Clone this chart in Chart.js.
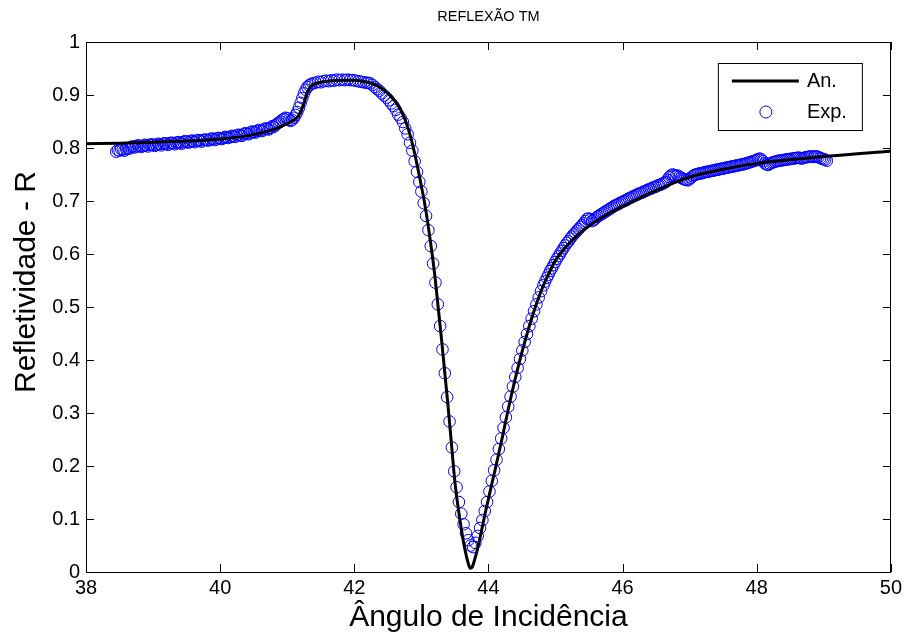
<!DOCTYPE html>
<html><head><meta charset="utf-8">
<script src="https://cdn.jsdelivr.net/npm/chart.js@4/dist/chart.umd.min.js"></script>
<style>html,body{margin:0;padding:0;background:#fff}</style>
</head><body>
<canvas id="c" width="906" height="637"></canvas>
<script>
const titleText = 'REFLEXÃO TM';
const xTitle = 'Ângulo de Incidência';
const yTitle = 'Refletividade - R';
const xTicks = [38, 40, 42, 44, 46, 48, 50];
const yTicks = [0, 0.1, 0.2, 0.3, 0.4, 0.5, 0.6, 0.7, 0.8, 0.9, 1];
const yTickLabels = ['0', '0.1', '0.2', '0.3', '0.4', '0.5', '0.6', '0.7', '0.8', '0.9', '1'];

// Analytical curve (An.)
const anX = [38, 38.5, 39, 39.5, 40, 40.3, 40.6, 40.8, 41.0, 41.1, 41.15, 41.2, 41.25, 41.3, 41.35, 41.4, 41.5, 41.6, 41.8, 42.0, 42.2, 42.3, 42.4, 42.5, 42.6, 42.7, 42.8, 42.9, 43.0, 43.05, 43.1, 43.15, 43.2, 43.25, 43.3, 43.35, 43.4, 43.45, 43.5, 43.55, 43.6, 43.65, 43.7, 43.73, 43.76, 43.8, 43.85, 43.9, 43.95, 44.0, 44.05, 44.1, 44.2, 44.3, 44.4, 44.5, 44.6, 44.7, 44.8, 44.9, 45.0, 45.2, 45.4, 45.6, 45.8, 46.0, 46.5, 47.0, 47.5, 48.0, 48.5, 49.0, 49.5, 50.0];
const anY = [0.808, 0.809, 0.811, 0.813, 0.817, 0.821, 0.828, 0.835, 0.846, 0.853, 0.858, 0.868, 0.885, 0.905, 0.916, 0.920, 0.924, 0.926, 0.928, 0.928, 0.924, 0.920, 0.913, 0.903, 0.890, 0.870, 0.838, 0.790, 0.728, 0.695, 0.655, 0.610, 0.560, 0.500, 0.440, 0.375, 0.310, 0.240, 0.170, 0.120, 0.078, 0.042, 0.016, 0.007, 0.010, 0.026, 0.050, 0.080, 0.110, 0.138, 0.166, 0.193, 0.250, 0.310, 0.365, 0.415, 0.460, 0.500, 0.535, 0.563, 0.588, 0.620, 0.643, 0.662, 0.677, 0.690, 0.720, 0.745, 0.760, 0.771, 0.778, 0.784, 0.789, 0.794];

// Experimental points (Exp.)
const expX = [
  38.450, 38.475, 38.500, 38.525, 38.550, 38.575, 38.600, 38.625, 38.650, 38.675, 38.700, 38.725, 38.750, 38.775, 38.800, 38.825, 38.850, 38.875, 38.900, 38.925, 38.950, 38.975,
  39.000, 39.025, 39.050, 39.075, 39.100, 39.125, 39.150, 39.175, 39.200, 39.225, 39.250, 39.275, 39.300, 39.325, 39.350, 39.375, 39.400, 39.425, 39.450, 39.475,
  39.500, 39.525, 39.550, 39.575, 39.600, 39.625, 39.650, 39.675, 39.700, 39.725, 39.750, 39.775, 39.800, 39.825, 39.850, 39.875, 39.900, 39.925, 39.950, 39.975,
  40.000, 40.025, 40.050, 40.075, 40.100, 40.125, 40.150, 40.175, 40.200, 40.225, 40.250, 40.275, 40.300, 40.325, 40.350, 40.375, 40.400, 40.425, 40.450, 40.475,
  40.500, 40.525, 40.550, 40.575, 40.600, 40.625, 40.650, 40.675, 40.700, 40.725, 40.750, 40.775, 40.800, 40.825, 40.850, 40.875, 40.900, 40.925, 40.950, 40.975,
  41.000, 41.025, 41.050, 41.075, 41.100, 41.125, 41.150, 41.175, 41.200, 41.225, 41.250, 41.275, 41.300, 41.325, 41.350,
  41.38, 41.42, 41.46, 41.50, 41.54, 41.58, 41.62, 41.66, 41.70, 41.74, 41.78, 41.82, 41.86, 41.90, 41.94, 41.98, 42.02, 42.06, 42.10, 42.14, 42.18,
  42.20, 42.235, 42.27, 42.305, 42.34, 42.375, 42.41, 42.445, 42.48, 42.515, 42.55, 42.585, 42.62, 42.655, 42.69, 42.725, 42.76, 42.795, 42.83, 42.865, 42.90, 42.935, 42.97,
  43.00, 43.035, 43.07, 43.105, 43.14, 43.175, 43.21, 43.245, 43.28, 43.315, 43.35, 43.385, 43.42, 43.455, 43.49, 43.525, 43.56, 43.595, 43.63, 43.665, 43.70, 43.735, 43.77,
  43.805, 43.84, 43.875, 43.91, 43.945, 43.98, 44.015, 44.05, 44.085, 44.12, 44.155, 44.19, 44.225, 44.26, 44.295, 44.33, 44.365, 44.40, 44.435, 44.47, 44.505, 44.54,
  44.575, 44.61, 44.645, 44.68, 44.715, 44.75, 44.785,
  44.820, 44.845, 44.870, 44.895, 44.920, 44.945, 44.970, 44.995, 45.020, 45.045, 45.070, 45.095, 45.120, 45.145, 45.170, 45.195, 45.220, 45.245, 45.270, 45.295,
  45.320, 45.345, 45.370, 45.395, 45.420, 45.445, 45.470, 45.495, 45.520, 45.545, 45.570, 45.595, 45.620, 45.645, 45.670, 45.695, 45.720, 45.745, 45.770, 45.795,
  45.820, 45.845, 45.870, 45.895, 45.920, 45.945, 45.970, 45.995, 46.020, 46.045, 46.070, 46.095, 46.120, 46.145, 46.170, 46.195, 46.220, 46.245, 46.270, 46.295,
  46.320, 46.345, 46.370, 46.395, 46.420, 46.445, 46.470, 46.495, 46.520, 46.545, 46.570, 46.595, 46.620, 46.645, 46.670, 46.695, 46.720, 46.745, 46.770, 46.795,
  46.820, 46.845, 46.870, 46.895, 46.920, 46.945, 46.970, 46.995, 47.020, 47.045, 47.070, 47.095, 47.120, 47.145, 47.170, 47.195, 47.220, 47.245, 47.270, 47.295,
  47.320, 47.345, 47.370, 47.395, 47.420, 47.445, 47.470, 47.495, 47.520, 47.545, 47.570, 47.595, 47.620, 47.645, 47.670, 47.695, 47.720, 47.745, 47.770, 47.795,
  47.820, 47.845, 47.870, 47.895, 47.920, 47.945, 47.970, 47.995, 48.020, 48.045, 48.070, 48.095, 48.120, 48.145, 48.170, 48.195, 48.220, 48.245, 48.270, 48.295,
  48.320, 48.345, 48.370, 48.395, 48.420, 48.445, 48.470, 48.495, 48.520, 48.545, 48.570, 48.595, 48.620, 48.645, 48.670, 48.695, 48.720, 48.745, 48.770, 48.795,
  48.820, 48.845, 48.870, 48.895, 48.920, 48.945, 48.970, 48.995, 49.020, 49.045
];
const expY = [
  0.793, 0.796, 0.795, 0.798, 0.797, 0.795, 0.798, 0.800, 0.799, 0.802, 0.803, 0.801, 0.803, 0.805, 0.804, 0.802, 0.804, 0.806, 0.805, 0.803, 0.806, 0.807,
  0.806, 0.804, 0.806, 0.808, 0.807, 0.805, 0.808, 0.809, 0.808, 0.806, 0.809, 0.810, 0.809, 0.807, 0.810, 0.811, 0.810, 0.808, 0.811, 0.813,
  0.812, 0.810, 0.812, 0.814, 0.813, 0.811, 0.814, 0.815, 0.814, 0.812, 0.815, 0.816, 0.815, 0.814, 0.816, 0.818, 0.817, 0.815, 0.818, 0.819,
  0.818, 0.817, 0.819, 0.821, 0.820, 0.819, 0.821, 0.823, 0.822, 0.821, 0.824, 0.825, 0.824, 0.823, 0.826, 0.828, 0.827, 0.826, 0.829, 0.831,
  0.830, 0.829, 0.832, 0.834, 0.833, 0.832, 0.835, 0.837, 0.836, 0.835, 0.838, 0.841, 0.840, 0.843, 0.846, 0.848, 0.850, 0.853, 0.855, 0.857,
  0.856, 0.853, 0.851, 0.853, 0.857, 0.862, 0.868, 0.876, 0.885, 0.894, 0.903, 0.910, 0.915, 0.918, 0.920,
  0.922, 0.923, 0.925, 0.924, 0.926, 0.927, 0.926, 0.928, 0.927, 0.929, 0.928, 0.929, 0.928, 0.929, 0.928, 0.928, 0.927, 0.926, 0.925, 0.924, 0.923,
  0.923, 0.922, 0.919, 0.915, 0.911, 0.908, 0.903, 0.899, 0.895, 0.890, 0.884, 0.879, 0.872, 0.863, 0.857, 0.849, 0.837, 0.826, 0.810, 0.795, 0.775, 0.755, 0.736,
  0.718, 0.696, 0.672, 0.645, 0.615, 0.582, 0.546, 0.505, 0.464, 0.420, 0.375, 0.330, 0.284, 0.235, 0.190, 0.160, 0.132, 0.110, 0.090, 0.073, 0.060, 0.050, 0.047,
  0.055, 0.068, 0.083, 0.098, 0.115, 0.132, 0.152, 0.172, 0.192, 0.212, 0.232, 0.252, 0.272, 0.292, 0.312, 0.331, 0.350, 0.368, 0.385, 0.402, 0.418, 0.434,
  0.449, 0.464, 0.478, 0.492, 0.505, 0.518, 0.530,
  0.541, 0.548, 0.555, 0.561, 0.568, 0.573, 0.579, 0.585, 0.591, 0.596, 0.601, 0.606, 0.611, 0.616, 0.621, 0.624, 0.629, 0.633, 0.637, 0.640,
  0.644, 0.647, 0.651, 0.654, 0.658, 0.662, 0.666, 0.667, 0.665, 0.662, 0.664, 0.667, 0.670, 0.672, 0.674, 0.676, 0.678, 0.680, 0.682, 0.684,
  0.686, 0.688, 0.690, 0.692, 0.693, 0.695, 0.697, 0.698, 0.700, 0.701, 0.703, 0.705, 0.706, 0.708, 0.709, 0.711, 0.712, 0.714, 0.715, 0.716,
  0.718, 0.719, 0.721, 0.722, 0.723, 0.725, 0.726, 0.727, 0.729, 0.730, 0.731, 0.733, 0.734, 0.736, 0.740, 0.745, 0.748, 0.750, 0.749, 0.747,
  0.748, 0.746, 0.744, 0.742, 0.741, 0.740, 0.739, 0.741, 0.744, 0.747, 0.749, 0.750, 0.751, 0.752, 0.752, 0.753, 0.754, 0.755, 0.755, 0.756,
  0.757, 0.757, 0.758, 0.759, 0.759, 0.760, 0.761, 0.761, 0.762, 0.763, 0.763, 0.764, 0.765, 0.765, 0.766, 0.767, 0.767, 0.768, 0.769, 0.769,
  0.770, 0.771, 0.772, 0.773, 0.774, 0.775, 0.776, 0.777, 0.779, 0.780, 0.778, 0.775, 0.771, 0.769, 0.768, 0.770, 0.772, 0.773, 0.774, 0.775,
  0.776, 0.776, 0.777, 0.777, 0.778, 0.778, 0.779, 0.779, 0.780, 0.780, 0.781, 0.781, 0.782, 0.781, 0.780, 0.781, 0.782, 0.783, 0.783, 0.784,
  0.784, 0.783, 0.784, 0.784, 0.783, 0.781, 0.780, 0.779, 0.778, 0.776
];

const FONT = 'Liberation Sans, Arial, Helvetica, sans-serif';
const toPts = (xs, ys) => xs.map((x, i) => ({x: x, y: ys[i]}));

const framePlugin = {
  id: 'frame',
  afterDraw(chart) {
    const {ctx, chartArea: a, scales} = chart;
    ctx.save();
    ctx.strokeStyle = '#000';
    ctx.lineWidth = 1;
    ctx.strokeRect(Math.round(a.left) + 0.5, Math.round(a.top) + 0.5, Math.round(a.right - a.left) - 1, Math.round(a.bottom - a.top));
    const tl = 8;
    ctx.beginPath();
    xTicks.forEach(v => {
      const px = Math.round(scales.x.getPixelForValue(v)) + 0.5;
      ctx.moveTo(px, a.bottom); ctx.lineTo(px, a.bottom - tl);
      ctx.moveTo(px, a.top); ctx.lineTo(px, a.top + tl);
    });
    yTicks.forEach(v => {
      const py = Math.round(scales.y.getPixelForValue(v)) + 0.5;
      ctx.moveTo(a.left, py); ctx.lineTo(a.left + tl, py);
      ctx.moveTo(a.right, py); ctx.lineTo(a.right - tl, py);
    });
    ctx.stroke();
    // chart title
    ctx.fillStyle = '#000';
    ctx.font = '14.5px ' + FONT;
    ctx.textAlign = 'center';
    ctx.textBaseline = 'middle';
    ctx.fillText(titleText, (a.left + a.right) / 2, 17);
    // axis titles
    ctx.font = '30px ' + FONT;
    ctx.textBaseline = 'alphabetic';
    ctx.fillText(xTitle, (a.left + a.right) / 2, 626);
    ctx.save();
    ctx.translate(35, 282);
    ctx.rotate(-Math.PI / 2);
    ctx.fillText(yTitle, 0, 0);
    ctx.restore();
    // legend
    const ds = chart.data.datasets;
    const bx = a.right - 173, by = a.top + 21, bw = 144, bh = 67;
    ctx.fillStyle = '#fff';
    ctx.fillRect(bx, by, bw, bh);
    ctx.strokeStyle = '#000';
    ctx.lineWidth = 1;
    ctx.strokeRect(bx + 0.5, by + 0.5, bw, bh);
    ctx.strokeStyle = ds[0].borderColor;
    ctx.lineWidth = ds[0].borderWidth;
    ctx.beginPath();
    ctx.moveTo(bx + 14, by + 18); ctx.lineTo(bx + 81, by + 18);
    ctx.stroke();
    ctx.strokeStyle = ds[1].pointBorderColor;
    ctx.lineWidth = 1;
    ctx.beginPath();
    ctx.arc(bx + 48, by + 49, 6, 0, Math.PI * 2);
    ctx.stroke();
    ctx.fillStyle = '#000';
    ctx.font = '20px ' + FONT;
    ctx.textAlign = 'left';
    ctx.textBaseline = 'middle';
    ctx.fillText(ds[0].label, bx + 89, by + 18);
    ctx.fillText(ds[1].label, bx + 89, by + 49);
    ctx.restore();
  }
};

new Chart(document.getElementById('c'), {
  type: 'scatter',
  data: {
    datasets: [
      {
        label: 'An.',
        data: toPts(anX, anY),
        showLine: true,
        borderColor: '#000',
        borderWidth: 3,
        pointRadius: 0,
        cubicInterpolationMode: 'monotone',
        fill: false
      },
      {
        label: 'Exp.',
        data: toPts(expX, expY),
        showLine: false,
        pointStyle: 'circle',
        pointRadius: 5.8,
        pointBorderWidth: 1,
        pointBorderColor: '#0000ff',
        pointBackgroundColor: 'rgba(0,0,0,0)',
        borderColor: '#0000ff',
        backgroundColor: 'rgba(0,0,0,0)'
      }
    ]
  },
  options: {
    responsive: false,
    animation: false,
    devicePixelRatio: 1,
    layout: {padding: {top: 42, right: 15, left: 0, bottom: 0}},
    plugins: {legend: {display: false}, tooltip: {enabled: false}, title: {display: false}},
    scales: {
      x: {
        type: 'linear', min: 38, max: 50,
        afterBuildTicks: s => { s.ticks = xTicks.map(v => ({value: v})); },
        afterFit: s => { s.height = 65; },
        grid: {display: false, drawTicks: false},
        border: {display: false},
        ticks: {color: '#000', font: {family: FONT, size: 20}, padding: 4, maxRotation: 0, autoSkip: false, callback: v => String(v)},
        title: {display: false}
      },
      y: {
        type: 'linear', min: 0, max: 1,
        afterBuildTicks: s => { s.ticks = yTicks.map(v => ({value: v})); },
        afterFit: s => { s.width = 86; },
        grid: {display: false, drawTicks: false},
        border: {display: false},
        ticks: {color: '#000', font: {family: FONT, size: 20}, padding: 6, autoSkip: false, callback: v => yTickLabels[yTicks.indexOf(Math.round(v * 10) / 10)]},
        title: {display: false}
      }
    }
  },
  plugins: [framePlugin]
});
</script>
</body></html>
